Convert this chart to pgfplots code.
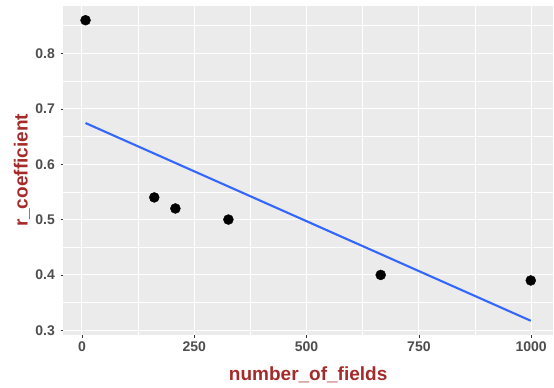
\documentclass[border=0pt]{standalone}
\usepackage{pgfplots}
\pgfplotsset{compat=1.18}
\usepackage{fontspec}
\setmainfont{Liberation Sans}
\definecolor{panelbg}{HTML}{EBEBEB}
\definecolor{tickgray}{HTML}{4D4D4D}
\definecolor{titlered}{HTML}{A52A2A}
\definecolor{smoothblue}{HTML}{3366FF}
\begin{document}
\begin{tikzpicture}[x=1pt,y=1pt]
\path[use as bounding box] (0,0) rectangle (554,388);
\begin{axis}[
  at={(63.3pt,53pt)}, anchor=south west,
  scale only axis, width=489.7pt, height=329pt,
  xmin=-41.5, xmax=1048.5, ymin=0.2915, ymax=0.8857,
  axis background/.style={fill=panelbg},
  axis line style={draw=none},
  xtick={0,250,500,750,1000},
  ytick={0.3,0.4,0.5,0.6,0.7,0.8},
  minor xtick={125,375,625,875},
  minor ytick={0.35,0.45,0.55,0.65,0.75,0.85},
  xtick pos=bottom, ytick pos=left,
  tick align=outside,
  major tick length=2.75pt, minor tick length=0pt,
  major tick style={draw=tickgray!70!black, line width=0.6pt},
  grid=both,
  major grid style={draw=white, line width=1.1pt},
  minor grid style={draw=white, line width=0.55pt},
  /pgf/number format/assume math mode=true,
  /pgf/number format/fixed, /pgf/number format/precision=1,
  /pgf/number format/1000 sep={},
  yticklabel={\pgfmathprintnumber[fixed,fixed zerofill,precision=1]{\tick}},
  ticklabel style={font=\fontsize{14}{16}\selectfont\bfseries, text=tickgray},
  xticklabel style={anchor=center, inner sep=0pt, yshift=-9pt},
  yticklabel style={anchor=east, inner sep=0pt, xshift=-5.5pt},
  xlabel={number\_of\_fields},
  ylabel={r\_coefficient},
  every axis x label/.style={at={(axis description cs:0.5,0)}, anchor=center, yshift=-40pt, font=\fontsize{19}{22}\selectfont\bfseries, text=titlered},
  every axis y label/.style={at={(axis description cs:0,0.5)}, xshift=-41.3pt, rotate=90, anchor=center, font=\fontsize{19}{22}\selectfont\bfseries, text=titlered},
  clip=true,
]
\addplot[smoothblue, line width=2.1pt] coordinates {(8,0.6743) (999,0.3172)};
\addplot[only marks, mark=*, mark size=5pt, black] coordinates {
  (8,0.86) (161,0.54) (208,0.52) (326,0.50) (665,0.40) (999,0.39)};
\end{axis}
\end{tikzpicture}
\end{document}
